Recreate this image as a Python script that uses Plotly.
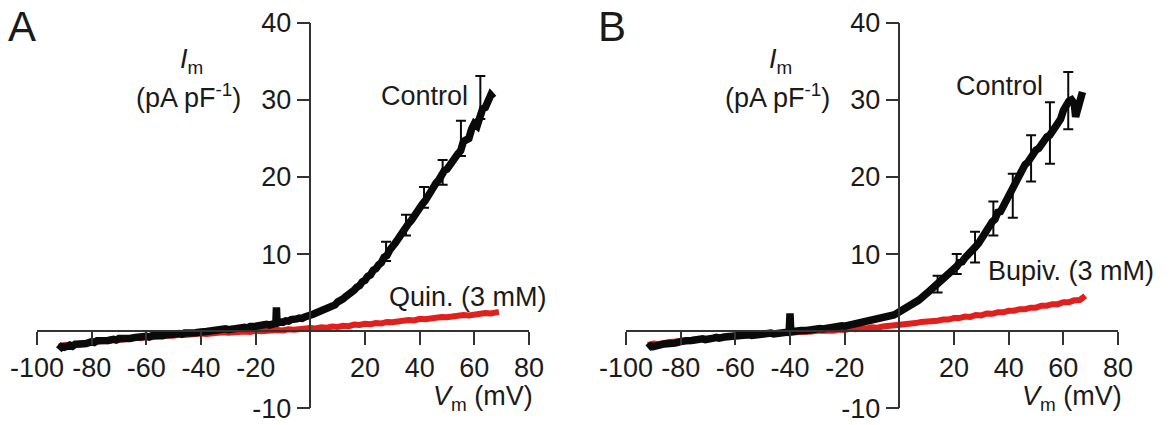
import plotly.graph_objects as go

# ---------------- data ----------------
ctrlA_x = [-92,-91,-90,-88,-87,-86,-84,-83,-82,-80,-79,-78,-76,-75,-74,-72,-71,-70,-68,-67,-66,-64,-63,-62,-60,-59,-58,-56,-55,-54,-52,-51,-50,-48,-47,-46,-44,-43,-42,-40,-39,-38,-36,-35,-34,-32,-31,-30,-28,-27,-26,-24,-23,-22,-20,-19,-18,-16,-15,-14,-12.6,-12.4,-12.2,-11,-10,-9,-8,-7,-6,-5,-4,-3,-2,-1,0,1,2,3,4,5,6,7,8,9,10,11,12,13,14,15,16,17,18,19,20,21,22,23,24,25,26,27,28,29,30,31,32,33,34,35,36,37,38,39,40,41,42,43,44,45,46,47,48,49,50,51,52,53,54,55,56,57,58,59,60,61,62,63,64,65,66,67]
ctrlA_y = [-2.4,-2.0,-2.1,-1.8,-1.95,-1.7,-1.65,-1.5,-1.6,-1.35,-1.45,-1.25,-1.3,-1.1,-1.2,-1.05,-1.15,-0.95,-1.0,-0.85,-0.95,-0.8,-0.7,-0.85,-0.65,-0.75,-0.6,-0.6,-0.45,-0.55,-0.45,-0.35,-0.45,-0.3,-0.4,-0.25,-0.25,-0.1,-0.2,-0.1,0.05,-0.05,0.05,0.15,0.05,0.2,0.3,0.2,0.35,0.25,0.45,0.5,0.4,0.6,0.65,0.75,0.7,0.9,0.8,1.0,1.0,3.1,1.1,1.2,1.15,1.35,1.3,1.5,1.45,1.6,1.7,1.65,1.85,1.9,2.05,2.2,2.35,2.5,2.6,2.75,2.95,3.1,3.35,3.4,3.8,3.9,4.2,4.5,4.7,5.1,5.3,5.7,5.9,6.4,6.6,7.1,7.3,7.9,8.1,8.6,8.9,9.6,9.8,10.5,10.8,11.4,11.9,12.5,12.9,13.8,14.0,14.4,15.0,15.6,15.8,16.5,16.9,17.6,17.9,18.8,19.2,19.6,20.3,20.8,21.0,21.4,22.0,22.5,23.0,23.4,24.6,24.8,25.0,26.2,26.9,26.6,27.6,28.8,29.0,29.6,30.6,30.2,31.6]

quinA_x = [-92,-90,-88,-86,-84,-82,-80,-78,-76,-74,-72,-70,-68,-66,-64,-62,-60,-58,-56,-54,-52,-50,-48,-46,-44,-42,-40,-38,-36,-34,-32,-30,-28,-26,-24,-22,-20,-18,-16,-14,-12,-10,-8,-6,-4,-2,0,2,4,6,8,10,12,14,16,18,20,22,24,26,28,30,32,34,36,38,40,42,44,46,48,50,52,54,56,58,60,62,64,66,68,69]
quinA_y = [-2.0,-1.8,-1.85,-1.65,-1.6,-1.55,-1.4,-1.45,-1.25,-1.3,-1.1,-1.15,-1.0,-1.0,-0.85,-0.9,-0.75,-0.8,-0.65,-0.7,-0.55,-0.6,-0.45,-0.5,-0.4,-0.45,-0.3,-0.35,-0.25,-0.3,-0.15,-0.2,-0.1,-0.15,-0.05,-0.1,0.05,0.0,0.1,0.05,0.15,0.1,0.25,0.2,0.3,0.25,0.4,0.35,0.5,0.45,0.6,0.55,0.7,0.65,0.85,0.8,0.95,0.9,1.05,1.0,1.2,1.15,1.3,1.3,1.45,1.4,1.6,1.55,1.7,1.7,1.85,1.8,1.95,1.95,2.1,2.05,2.2,2.2,2.35,2.3,2.45,2.5]

errA_x = [27.7, 35.0, 41.6, 48.4, 55.1, 62.2]
errA_lo = [9.1, 12.4, 16.0, 19.0, 22.7, 27.5]
errA_hi = [11.6, 15.1, 18.7, 22.2, 27.3, 33.1]

ctrlB_x = [-92,-91,-90,-88,-87,-86,-84,-83,-82,-80,-79,-78,-76,-75,-74,-72,-71,-70,-68,-67,-66,-64,-63,-62,-60,-59,-58,-56,-55,-54,-52,-51,-50,-48,-47,-46,-44,-43,-42,-40.3,-40,-39.7,-38,-37,-36,-34,-33,-32,-30,-29,-28,-26,-25,-24,-22,-21,-20,-18,-17,-16,-14,-13,-12,-10,-9,-8,-6,-5,-4,-2,-1,0,1,2,3,4,5,6,7,8,9,10,11,12,13,14,15,16,17,18,19,20,21,22,23,24,25,26,27,28,29,30,31,32,33,34,35,36,37,38,39,40,41,42,43,44,45,46,47,48,49,50,51,52,53,54,55,56,57,58,59,60,61,62,63,64,64.5,65,66,67]
ctrlB_y = [-2.2,-1.9,-2.0,-1.75,-1.85,-1.65,-1.6,-1.45,-1.55,-1.35,-1.4,-1.25,-1.2,-1.1,-1.2,-1.0,-1.1,-0.95,-0.9,-0.8,-0.9,-0.75,-0.7,-0.8,-0.6,-0.7,-0.55,-0.5,-0.45,-0.55,-0.4,-0.35,-0.45,-0.3,-0.25,-0.35,-0.2,-0.15,-0.25,-0.1,2.3,-0.1,0.0,-0.05,0.1,0.1,0.2,0.15,0.25,0.35,0.3,0.45,0.4,0.55,0.6,0.7,0.65,0.8,0.9,0.85,1.05,1.15,1.1,1.35,1.45,1.4,1.7,1.8,1.8,2.1,2.3,2.5,2.6,2.9,3.0,3.3,3.5,3.8,4.0,4.3,4.5,4.9,5.2,5.5,5.8,6.2,6.4,6.8,7.2,7.5,7.9,8.2,8.4,8.9,9.0,9.5,9.8,10.2,10.7,11.0,11.4,12.0,12.5,13.0,13.4,14.2,14.5,15.4,15.5,16.2,16.6,17.2,17.8,18.6,19.5,20.0,20.9,21.6,21.9,22.6,22.8,23.5,23.7,24.3,24.9,25.2,25.4,26.0,26.6,27.0,27.5,28.6,29.3,29.8,30.0,29.5,27.8,28.5,30.5,31.0]

bupB_x = [-92,-90,-88,-86,-84,-82,-80,-78,-76,-74,-72,-70,-68,-66,-64,-62,-60,-58,-56,-54,-52,-50,-48,-46,-44,-42,-40,-38,-36,-34,-32,-30,-28,-26,-24,-22,-20,-18,-16,-14,-12,-10,-8,-6,-4,-2,0,2,4,6,8,10,12,14,16,18,20,22,24,26,28,30,32,34,36,38,40,42,44,46,48,50,52,54,56,58,60,62,64,66,67,68]
bupB_y = [-1.8,-1.6,-1.65,-1.45,-1.4,-1.35,-1.25,-1.2,-1.1,-1.1,-1.0,-0.95,-0.85,-0.85,-0.75,-0.7,-0.6,-0.6,-0.5,-0.5,-0.4,-0.4,-0.3,-0.3,-0.25,-0.2,-0.2,-0.1,-0.1,-0.05,-0.05,0.05,0.0,0.1,0.05,0.2,0.15,0.3,0.25,0.4,0.35,0.5,0.45,0.6,0.65,0.75,0.8,0.9,1.0,1.05,1.2,1.2,1.35,1.35,1.5,1.5,1.7,1.7,1.9,1.85,2.1,2.05,2.3,2.25,2.45,2.45,2.65,2.65,2.85,2.85,3.05,3.05,3.3,3.3,3.5,3.5,3.75,3.75,4.0,4.05,4.3,4.6]

errB_x = [14.0, 21.0, 27.7, 34.4, 41.5, 48.2, 55.1, 61.8]
errB_lo = [5.0, 7.4, 8.9, 12.4, 14.7, 19.4, 21.7, 26.2]
errB_hi = [7.2, 10.0, 12.9, 16.8, 20.4, 25.4, 29.7, 33.6]

x_ticks = [-100, -80, -60, -40, -20, 20, 40, 60, 80]
y_ticks = [-10, 10, 20, 30, 40]
X_RANGE = [-100, 80]
Y_RANGE = [-10, 40]

# ---------------- layout constants ----------------
W, H = 1171, 425
FONT = "Liberation Sans, Arial, sans-serif"
BLACK = "#0a0a0a"
RED = "#e11f1c"
AXC = "#333333"
TXT = "#1a1a1a"
FS = 27

domA = [37 / W, 529 / W]
domB = [626 / W, 1118 / W]
domY = [(H - 408.3) / H, (H - 22.7) / H]

def zero_pos(dom, rng):
    return dom[0] + (0 - rng[0]) / (rng[1] - rng[0]) * (dom[1] - dom[0])

fig = go.Figure()

def add_panel(xr, yr, cx, cy, dx, dy, ex, elo, ehi):
    fig.add_trace(go.Scatter(x=dx, y=dy, xaxis=xr, yaxis=yr, mode="lines",
                             line=dict(color=RED, width=6), showlegend=False))
    fig.add_trace(go.Scatter(x=cx, y=cy, xaxis=xr, yaxis=yr, mode="lines",
                             line=dict(color=BLACK, width=7.5), showlegend=False))
    mid = [(a + b) / 2 for a, b in zip(elo, ehi)]
    fig.add_trace(go.Scatter(x=ex, y=mid, xaxis=xr, yaxis=yr, mode="markers",
                             marker=dict(size=1, color=BLACK),
                             error_y=dict(type="data", symmetric=False,
                                          array=[h - m for h, m in zip(ehi, mid)],
                                          arrayminus=[m - l for m, l in zip(mid, elo)],
                                          color=BLACK, thickness=2, width=5),
                             showlegend=False))

add_panel("x", "y", ctrlA_x, ctrlA_y, quinA_x, quinA_y, errA_x, errA_lo, errA_hi)
add_panel("x2", "y2", ctrlB_x, ctrlB_y, bupB_x, bupB_y, errB_x, errB_lo, errB_hi)

def xaxis(dom):
    return dict(domain=dom, range=X_RANGE, anchor="free", position=zero_pos(domY, Y_RANGE),
                tickvals=x_ticks, ticktext=[str(v) for v in x_ticks], ticks="outside",
                ticklen=13, tickwidth=1.5, tickcolor=AXC, showline=True, linecolor=AXC,
                linewidth=1.5, showgrid=False, zeroline=False, automargin=False,
                tickfont=dict(family=FONT, size=FS, color=TXT))

def yaxis(dom_x):
    return dict(domain=domY, range=Y_RANGE, anchor="free", position=zero_pos(dom_x, X_RANGE),
                tickvals=y_ticks, ticktext=[str(v) for v in y_ticks], ticks="outside",
                ticklen=13, tickwidth=1.5, tickcolor=AXC, showline=True, linecolor=AXC,
                linewidth=1.5, showgrid=False, zeroline=False, automargin=False,
                tickfont=dict(family=FONT, size=FS, color=TXT))

fig.update_layout(
    width=W, height=H, margin=dict(l=0, r=0, t=0, b=0, autoexpand=False),
    paper_bgcolor="white", plot_bgcolor="rgba(0,0,0,0)",
    xaxis=xaxis(domA), yaxis=yaxis(domA),
    xaxis2=xaxis(domB), yaxis2=yaxis(domB),
    font=dict(family=FONT, size=FS, color=TXT),
)

def note(text, x, y, xr, yr, xanchor="center", size=FS):
    fig.add_annotation(text=text, x=x, y=y, xref=xr, yref=yr, showarrow=False,
                       xanchor=xanchor, yanchor="middle",
                       font=dict(family=FONT, size=size, color=TXT))

for xr, yr in (("x", "y"), ("x2", "y2")):
    note("<i>I</i><sub>m</sub>", -43.5, 35.0, xr, yr)
    note("(pA pF<sup>-1</sup>)", -44.5, 30.5, xr, yr)
    note("<i>V</i><sub>m</sub> (mV)", 63, -8.6, xr, yr)

note("Control", 41.6, 30.5, "x", "y")
note("Quin. (3 mM)", 28.1, 4.4, "x", "y", xanchor="left")
note("Control", 36.8, 31.8, "x2", "y2")
note("Bupiv. (3 mM)", 31.7, 7.8, "x2", "y2", xanchor="left")

note("A", 22 / W, 1 - 27 / H, "paper", "paper", size=42)
note("B", 611.5 / W, 1 - 27 / H, "paper", "paper", size=42)

fig.write_html("out.html")
